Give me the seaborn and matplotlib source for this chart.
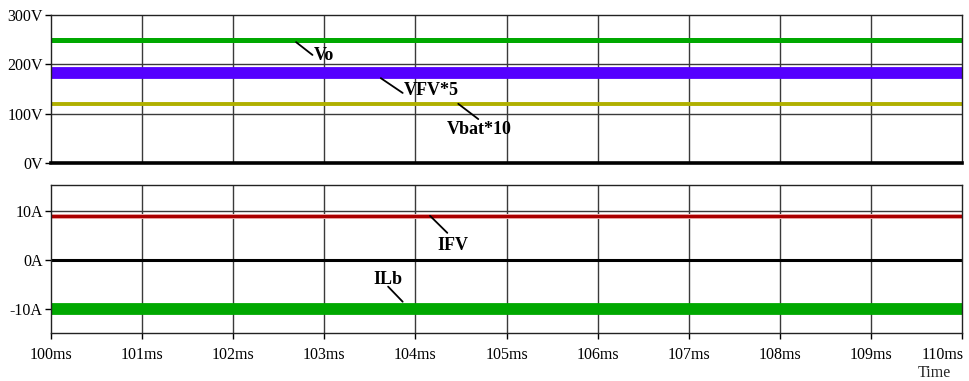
import matplotlib
matplotlib.use("Agg")
import matplotlib.pyplot as plt
import matplotlib.transforms as mtransforms
import seaborn as sns
import pandas as pd

# 波形資料 (ms, V / A)
t = [100, 110]
vo = [250, 250]
vfv5 = [183, 183]
vbat10 = [120, 120]
ifv = [9.0, 9.0]
ilb = [-10, -10]
i_zero = [0, 0]

v_ticks = [0, 100, 200, 300]
v_labels = ["0V", "100V", "200V", "300V"]
i_ticks = [-10, 0, 10]
i_labels = ["-10A", "0A", "10A"]
t_ticks = list(range(100, 111))
t_labels = [f"{v}ms" for v in t_ticks]

# 標註: 文字, 引線起點, 引線終點, 文字位置
top_notes = [
    ("Vo", (102.69, 245), (102.87, 219), (102.88, 217)),
    ("VFV*5", (103.62, 172), (103.86, 142), (103.87, 146)),
    ("Vbat*10", (104.47, 120), (104.69, 89), (104.34, 67)),
]
bot_notes = [
    ("IFV", (104.16, 9.0), (104.35, 5.5), (104.24, 2.9)),
    ("ILb", (103.70, -5.5), (103.86, -8.6), (103.54, -4.1)),
]

sns.set_theme(style="white")
plt.rcParams["font.family"] = ["Liberation Serif", "DejaVu Serif"]

fig = plt.figure(figsize=(9.7, 3.81), dpi=100)
ax1 = fig.add_axes([0.0526, 0.5722, 0.9392, 0.3884])
ax2 = fig.add_axes([0.0526, 0.1260, 0.9392, 0.3884])

df = pd.DataFrame({"t": t, "vo": vo, "vfv5": vfv5, "vbat10": vbat10,
                   "ifv": ifv, "ilb": ilb, "zero": i_zero})

grid_kw = dict(color="#3a3a3a", linewidth=1.0, zorder=0)
for ax in (ax1, ax2):
    for x in t_ticks[1:-1]:
        ax.axvline(x, **grid_kw)

for y in [100, 200]:
    ax1.axhline(y, **grid_kw)
for y in [-10, 10]:
    ax2.axhline(y, **grid_kw)

sns.lineplot(data=df, x="t", y="vo", ax=ax1, color="#00a800", linewidth=3.6)
sns.lineplot(data=df, x="t", y="vfv5", ax=ax1, color="#5500ff", linewidth=8.5)
sns.lineplot(data=df, x="t", y="vbat10", ax=ax1, color="#b0b000", linewidth=2.8)

sns.lineplot(data=df, x="t", y="ifv", ax=ax2, color="#f2b0b0", linewidth=3.6)
sns.lineplot(data=df, x="t", y="ifv", ax=ax2, color="#aa0000", linewidth=2.3)
sns.lineplot(data=df, x="t", y="zero", ax=ax2, color="black", linewidth=2.2)
sns.lineplot(data=df, x="t", y="ilb", ax=ax2, color="#00a800", linewidth=8.5)

ax1.set_ylim(0, 300)
ax2.set_ylim(-15, 15.3)
for ax in (ax1, ax2):
    ax.set_xlim(100, 110)
    ax.set_xlabel("")
    ax.set_ylabel("")
    for s in ax.spines.values():
        s.set_color("#222222")
        s.set_linewidth(1.0)
    ax.tick_params(axis="y", which="both", left=True, length=4, width=1,
                   direction="out", colors="black", labelsize=11.5, pad=2)

ax1.spines["bottom"].set_linewidth(2.6)
ax1.spines["bottom"].set_color("black")
ax1.set_yticks(v_ticks)
ax1.set_yticklabels(v_labels)
ax1.set_xticks([])

ax2.set_yticks(i_ticks)
ax2.set_yticklabels(i_labels)
ax2.set_xticks(t_ticks)
ax2.set_xticklabels(t_labels)
ax2.tick_params(axis="x", bottom=True, length=4, width=1, direction="out",
                colors="black", labelsize=11.5, pad=6)

# 最後一個刻度標籤往左移，避免被裁切
last = ax2.get_xticklabels()[-1]
last.set_transform(last.get_transform() +
                   mtransforms.ScaledTranslation(-0.19, 0, fig.dpi_scale_trans))

for ax, notes in ((ax1, top_notes), (ax2, bot_notes)):
    for label, p0, p1, pt in notes:
        ax.plot([p0[0], p1[0]], [p0[1], p1[1]], color="black", linewidth=1.3)
        ax.text(pt[0], pt[1], label, ha="left", va="center",
                fontsize=13, fontweight="bold", color="black")

fig.text(0.963, 0.0, "Time", ha="center", va="bottom", fontsize=11.5)

fig.savefig("out.png", dpi=100)
